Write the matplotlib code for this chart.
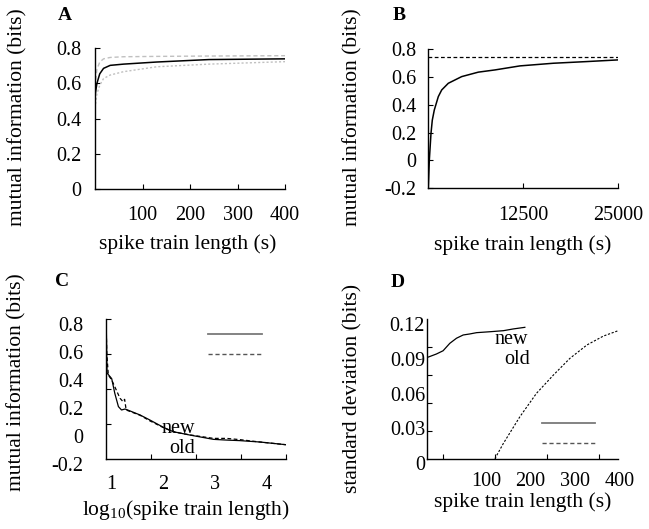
import numpy as np
import matplotlib
matplotlib.use('Agg')
import matplotlib.pyplot as plt

plt.rcParams['font.family'] = 'Liberation Serif'
plt.rcParams['mathtext.fontset'] = 'custom'
plt.rcParams['mathtext.rm'] = 'Liberation Serif'
plt.rcParams['mathtext.it'] = 'Liberation Serif:italic'

# ---- panel A: convergence of the estimate (mean and spread)
a_len = [0, 4, 10, 18, 32, 60, 130, 240, 400]
a_mean = [0.53, 0.60, 0.655, 0.686, 0.703, 0.71, 0.722, 0.736, 0.74]
a_upper = [0.58, 0.68, 0.722, 0.74, 0.748, 0.752, 0.754, 0.756, 0.758]
a_lower = [0.46, 0.54, 0.59, 0.628, 0.648, 0.667, 0.695, 0.71, 0.724]

# ---- panel B: long spike trains
b_len = [0, 132, 356, 527, 791, 1318, 1766, 2636, 4402, 6590, 8790,
         12086, 16475, 20877, 25000]
b_mi = [-0.2, 0.0, 0.196, 0.29, 0.363, 0.459, 0.507, 0.555, 0.603, 0.635,
        0.651, 0.68, 0.699, 0.711, 0.723]
b_true = 0.747

# ---- panel C: log10 length, new vs old estimator
c_new_x = [0.895, 0.91, 1.0, 1.06, 1.13, 1.19, 1.26, 1.55, 1.74, 2.0, 2.19,
           2.51, 2.97, 3.22, 3.48, 3.87, 4.366]
c_new = [0.78, 0.45, 0.41, 0.305, 0.21, 0.186, 0.193, 0.15, 0.114, 0.062,
         0.031, 0.007, -0.024, -0.029, -0.033, -0.043, -0.062]
c_old_x = [0.89, 0.905, 0.935, 1.0, 1.06, 1.16, 1.22, 1.25, 1.28, 1.55, 1.74,
           2.0, 2.19, 2.51, 2.97, 3.22, 3.48, 3.87, 4.366]
c_old = [0.83, 0.59, 0.436, 0.4, 0.352, 0.27, 0.245, 0.262, 0.186, 0.148,
         0.108, 0.06, 0.03, 0.008, -0.017, -0.017, -0.026, -0.043, -0.062]

# ---- panel D: standard deviation
d_new_x = [-33, -11, 4, 19, 34, 49, 64, 79, 109, 139, 161, 187]
d_new = [0.091, 0.0942, 0.097, 0.1034, 0.1078, 0.1106, 0.1115, 0.1126,
         0.1134, 0.1143, 0.1158, 0.1172]
d_old_x = [120, 139, 176, 213, 251, 288, 326, 363, 396]
d_old = [0.004, 0.0172, 0.0402, 0.0603, 0.0761, 0.0905, 0.102, 0.1097, 0.1143]

W, H = 649, 529
TICK_FS = 14.5
LAB_FS = 15.5

fig = plt.figure(figsize=(W / 100, H / 100), dpi=100)


def make_ax(l, t, r, b):
    ax = fig.add_axes([l / W, 1 - b / H, (r - l) / W, (b - t) / H])
    ax.spines['top'].set_visible(False)
    ax.spines['right'].set_visible(False)
    for s in ('left', 'bottom'):
        ax.spines[s].set_linewidth(1.0)
    ax.patch.set_alpha(0)
    return ax, (l, t, r, b)


def frac(bx, px, py):
    l, t, r, b = bx
    return (px - l) / (r - l), (b - py) / (b - t)


def labels(ax, bx, xlab, xpos, ylab, ypos):
    ax.set_xlabel(xlab, fontsize=LAB_FS, va='center', ha='center')
    ax.xaxis.set_label_coords(*frac(bx, *xpos))
    ax.set_ylabel(ylab, fontsize=LAB_FS, va='center', ha='center')
    ax.yaxis.set_label_coords(*frac(bx, *ypos))


# ================= A
axA, bxA = make_ax(95, 48.3, 285, 189)
axA.plot(a_len, a_upper, color='#c0c0c0', lw=1.0, ls=(0, (3, 2)))
axA.plot(a_len, a_lower, color='#c0c0c0', lw=1.0, ls=(0, (1.5, 1.5)))
axA.plot(a_len, a_mean, color='k', lw=1.1)
axA.set_xlim(0, 400)
axA.set_ylim(0, 0.8)
axA.set_xticks([100, 200, 300, 400])
axA.set_yticks([0, 0.2, 0.4, 0.6, 0.8])
axA.set_yticklabels(['0', '0.2', '0.4', '0.6', '0.8'])
axA.tick_params(direction='in', length=3.6, width=0.8, labelsize=TICK_FS)
axA.tick_params(axis='x', pad=12.5)
axA.tick_params(axis='y', pad=9.6)
labels(axA, bxA, 'spike train length (s)', (188, 244),
       'mutual information (bits)', (18, 117))

# ================= B
axB, bxB = make_ax(428.3, 48.5, 618, 188.3)
axB.axhline(b_true, color='k', lw=0.9, ls=(0, (3, 2)))
axB.plot(b_len, b_mi, color='k', lw=1.1)
axB.set_xlim(0, 25000)
axB.set_ylim(-0.2, 0.805)
axB.set_xticks([12500, 25000])
axB.set_yticks([-0.2, 0, 0.2, 0.4, 0.6, 0.8])
axB.set_yticklabels(['-0.2', '0', '0.2', '0.4', '0.6', '0.8'])
axB.tick_params(direction='in', length=3.6, width=0.8, labelsize=TICK_FS)
axB.tick_params(axis='x', pad=12.5)
axB.tick_params(axis='y', pad=8.6)
labels(axB, bxB, 'spike train length (s)', (523, 245),
       'mutual information (bits)', (353, 117))

# ================= C
axC, bxC = make_ax(105.7, 319, 285.7, 464)
c_xlo, c_xhi = 0.884, 4.366
c_ylo, c_yhi = -0.164, 0.836
axC.plot(c_new_x, c_new, color='k', lw=0.9)
axC.plot(c_old_x, c_old, color='k', lw=0.9, ls=(0, (3, 2)))
axC.set_xlim(c_xlo, c_xhi)
axC.set_ylim(-0.2, c_yhi)
axC.spines['bottom'].set_position(('data', c_ylo))
axC.spines['left'].set_bounds(c_ylo, c_yhi)
axC.set_xticks([1, 2, 3, 4])
axC.set_yticks([-0.2, 0, 0.2, 0.4, 0.6, 0.8])
axC.set_yticklabels(['-0.2', '0', '0.2', '0.4', '0.6', '0.8'])
axC.set_xticks(np.linspace(c_xlo, c_xhi, 5)[1:], minor=True)
axC.set_yticks(np.linspace(c_ylo, c_yhi, 5)[1:], minor=True)
axC.tick_params(which='major', length=0, labelsize=TICK_FS)
axC.tick_params(which='minor', direction='in', length=3.6, width=0.8)
axC.tick_params(axis='x', which='major', pad=11.5)
axC.tick_params(axis='y', which='major', pad=16.3)
labels(axC, bxC, r'$\mathrm{log}_{10}$(spike train length)', (186, 510),
       'mutual information (bits)', (17, 382))
# key lines and names, placed loose like the original
for py, ls, col in ((334.3, '-', '#7a7a7a'), (354.3, (0, (3, 2)), '#555555')):
    x0, y0 = frac(bxC, 208.3, py)
    x1, _ = frac(bxC, 261.7, py)
    axC.plot([x0, x1], [y0, y0], transform=axC.transAxes, color=col,
             lw=1.3 if ls == '-' else 1.0, ls=ls, clip_on=False)
axC.text(*frac(bxC, 178.3, 428.3), 'new', transform=axC.transAxes,
         ha='center', va='center', fontsize=TICK_FS)
axC.text(*frac(bxC, 181.7, 448.3), 'old', transform=axC.transAxes,
         ha='center', va='center', fontsize=TICK_FS)

# ================= D
axD, bxD = make_ax(426.7, 319.2, 620, 463.3)
d_xlo, d_xhi = -32.7, 400
d_ylo, d_yhi = 0.0037, 0.1242
axD.plot(d_new_x, d_new, color='k', lw=0.9)
axD.plot(d_old_x, d_old, color='k', lw=0.8, ls=(0, (2, 1.5)))
axD.set_xlim(d_xlo, d_xhi)
axD.set_ylim(0, d_yhi)
axD.spines['bottom'].set_position(('data', d_ylo))
axD.spines['bottom'].set_bounds(d_xlo, 396)
axD.spines['left'].set_bounds(d_ylo, d_yhi)
axD.set_xticks([100, 200, 300, 400])
axD.set_yticks([0, 0.03, 0.06, 0.09, 0.12])
axD.set_yticklabels(['0', '0.03', '0.06', '0.09', '0.12'])
axD.set_xticks([4, 120, 236, 352], minor=True)
axD.set_yticks(np.linspace(d_ylo, d_yhi, 6)[1:-1], minor=True)
axD.tick_params(which='major', length=0, labelsize=TICK_FS)
axD.tick_params(which='minor', direction='in', length=3.6, width=0.8)
axD.tick_params(axis='x', which='major', pad=9.3)
axD.tick_params(axis='y', which='major', pad=1.2)
labels(axD, bxD, 'spike train length (s)', (523, 502),
       'standard deviation (bits)', (353, 388))
for py, ls, col in ((423.3, '-', '#7a7a7a'), (443.3, (0, (3, 2)), '#555555')):
    x0, y0 = frac(bxD, 541.7, py)
    x1, _ = frac(bxD, 595, py)
    axD.plot([x0, x1], [y0, y0], transform=axD.transAxes, color=col,
             lw=1.3 if ls == '-' else 1.0, ls=ls, clip_on=False)
axD.text(*frac(bxD, 511.7, 340), 'new', transform=axD.transAxes,
         ha='center', va='center', fontsize=TICK_FS)
axD.text(*frac(bxD, 516.7, 359.3), 'old', transform=axD.transAxes,
         ha='center', va='center', fontsize=TICK_FS)

# panel letters
for letter, px, py in (('A', 65, 15), ('B', 399, 15), ('C', 61.7, 281.7),
                       ('D', 397.3, 282.3)):
    fig.text(px / W, 1 - py / H, letter, ha='center', va='center',
             fontsize=14, fontweight='bold')

fig.savefig('out.png', dpi=100)
